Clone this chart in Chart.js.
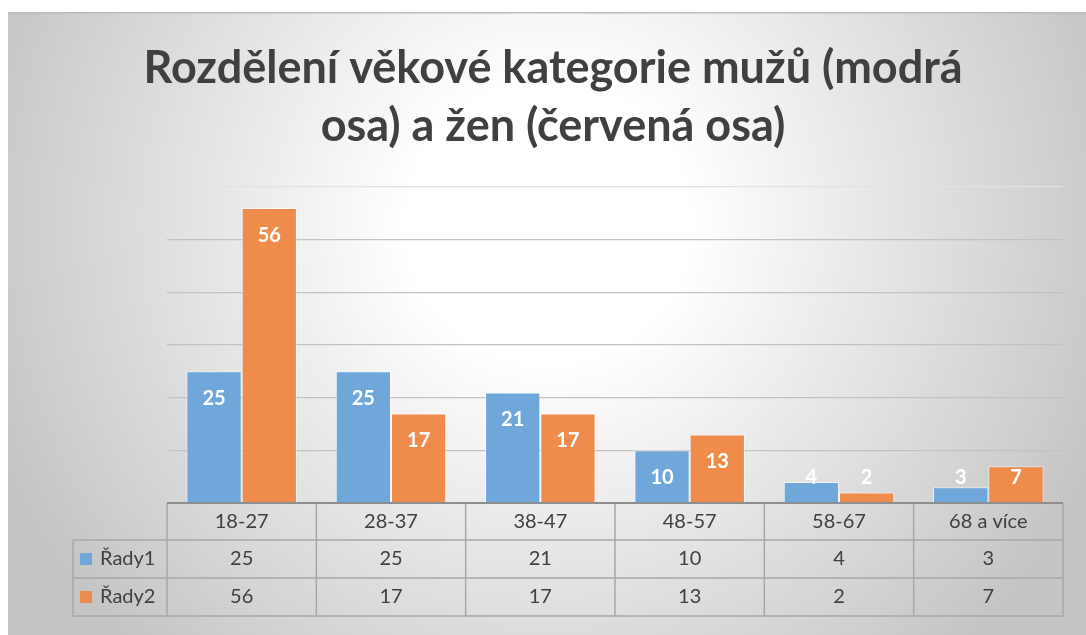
<!DOCTYPE html>
<html>
<head>
<meta charset="utf-8">
<script src="https://cdn.jsdelivr.net/npm/chart.js@4"></script>
<style>
  html, body { margin: 0; padding: 0; background: #fff; }
  #wrap { position: absolute; left: 8px; top: 12px; width: 1078px; height: 623px; }
</style>
</head>
<body>
<div id="wrap"><canvas id="ageChart" width="1078" height="623"></canvas></div>
<script>
// categories and series
const categories = ['18-27', '28-37', '38-47', '48-57', '58-67', '68 a více'];
const men = [25, 25, 21, 10, 4, 3];
const women = [56, 17, 17, 13, 2, 7];
const seriesNames = ['Řady1', 'Řady2'];
const titleLines = ['Rozdělení věkové kategorie mužů (modrá', 'osa) a žen (červená osa)'];

const blue = '#6fa7da';
const orange = '#ef8c4c';
const font = 'Lato, "Open Sans", sans-serif';

// gradient background, top border and the title (centred on the whole box)
const backdrop = {
    id: 'backdrop',
    beforeDraw(chart) {
        const c = chart.ctx;
        const g = c.createRadialGradient(540, 210, 140, 540, 210, 590);
        g.addColorStop(0, '#ffffff');
        g.addColorStop(1, '#c5c5c5');
        c.save();
        c.fillStyle = g;
        c.fillRect(0, 0, chart.width, chart.height);
        c.fillStyle = '#bcbcbc';
        c.fillRect(0, 0, chart.width, 1.5);
        c.font = 'bold 45px ' + font;
        c.fillStyle = '#404040';
        c.textAlign = 'center';
        c.textBaseline = 'middle';
        titleLines.forEach((line, i) => c.fillText(line, 545, 56 + i * 58));
        c.restore();
    }
};

// white value labels, inside end (kept above the base for short bars)
const valueLabels = {
    id: 'valueLabels',
    afterDatasetsDraw(chart) {
        const c = chart.ctx;
        c.save();
        c.font = 'bold 20px ' + font;
        c.fillStyle = '#ffffff';
        c.textAlign = 'center';
        c.textBaseline = 'middle';
        chart.data.datasets.forEach((ds, i) => {
            chart.getDatasetMeta(i).data.forEach((bar, j) => {
                const y = Math.min(bar.y + 27, bar.base - 25);
                c.fillText(ds.data[j], bar.x, y);
            });
        });
        c.restore();
    }
};

// data table under the plot
const dataTable = {
    id: 'dataTable',
    afterDraw(chart) {
        const c = chart.ctx;
        const x = chart.scales.x;
        const area = chart.chartArea;
        const left = area.left, right = area.right;
        const step = (right - left) / categories.length;
        const rows = [area.bottom, area.bottom + 37, area.bottom + 75, area.bottom + 113];
        const legLeft = left - 94;
        c.save();
        c.strokeStyle = '#a8a8a8';
        c.lineWidth = 1.5;
        c.beginPath();
        c.moveTo(left, rows[1]); c.lineTo(right, rows[1]);
        c.moveTo(legLeft, rows[1]); c.lineTo(left, rows[1]);
        c.moveTo(legLeft, rows[2]); c.lineTo(right, rows[2]);
        c.moveTo(legLeft, rows[3]); c.lineTo(right, rows[3]);
        for (let i = 0; i <= categories.length; i++) {
            const px = left + i * step;
            c.moveTo(px, rows[0]); c.lineTo(px, rows[3]);
        }
        c.moveTo(legLeft, rows[1]); c.lineTo(legLeft, rows[3]);
        c.stroke();
        // axis line
        c.strokeStyle = '#8e8e8e';
        c.lineWidth = 2;
        c.beginPath();
        c.moveTo(left, rows[0]); c.lineTo(right, rows[0]);
        c.stroke();

        c.font = '20px ' + font;
        c.fillStyle = '#404040';
        c.textAlign = 'center';
        c.textBaseline = 'middle';
        categories.forEach((cat, i) => {
            const cx = x.getPixelForValue(i);
            c.fillText(cat, cx, (rows[0] + rows[1]) / 2);
            c.fillText(men[i], cx, (rows[1] + rows[2]) / 2);
            c.fillText(women[i], cx, (rows[2] + rows[3]) / 2);
        });
        // legend keys
        [blue, orange].forEach((col, i) => {
            const cy = (rows[i + 1] + rows[i + 2]) / 2;
            c.fillStyle = col;
            c.fillRect(legLeft + 7, cy - 6, 12, 12);
            c.fillStyle = '#404040';
            c.textAlign = 'left';
            c.fillText(seriesNames[i], legLeft + 27, cy);
        });
        c.restore();
    }
};

new Chart(document.getElementById('ageChart').getContext('2d'), {
    type: 'bar',
    data: {
        labels: categories,
        datasets: [{
            label: seriesNames[0],
            data: men,
            backgroundColor: blue,
            borderColor: 'rgba(255,255,255,0.6)',
            borderWidth: 1
        }, {
            label: seriesNames[1],
            data: women,
            backgroundColor: orange,
            borderColor: 'rgba(255,255,255,0.6)',
            borderWidth: 1
        }]
    },
    options: {
        responsive: false,
        animation: false,
        events: [],
        datasets: { bar: { categoryPercentage: 0.74, barPercentage: 1 } },
        layout: { padding: { left: 159, right: 23, top: 175, bottom: 132 } },
        plugins: {
            legend: { display: false },
            tooltip: { enabled: false },
            title: { display: false }
        },
        scales: {
            x: { display: false },
            y: {
                min: 0,
                max: 60,
                ticks: { display: false, stepSize: 10 },
                border: { display: false },
                grid: {
                    drawTicks: false,
                    tickLength: 0,
                    lineWidth: 1.3,
                    color: ctx => ctx.tick.value === 60 ? '#e2e2e2' : ctx.tick.value === 0 ? 'rgba(0,0,0,0)' : '#c2c2c2'
                }
            }
        }
    },
    plugins: [backdrop, valueLabels, dataTable]
});
</script>
</body>
</html>
